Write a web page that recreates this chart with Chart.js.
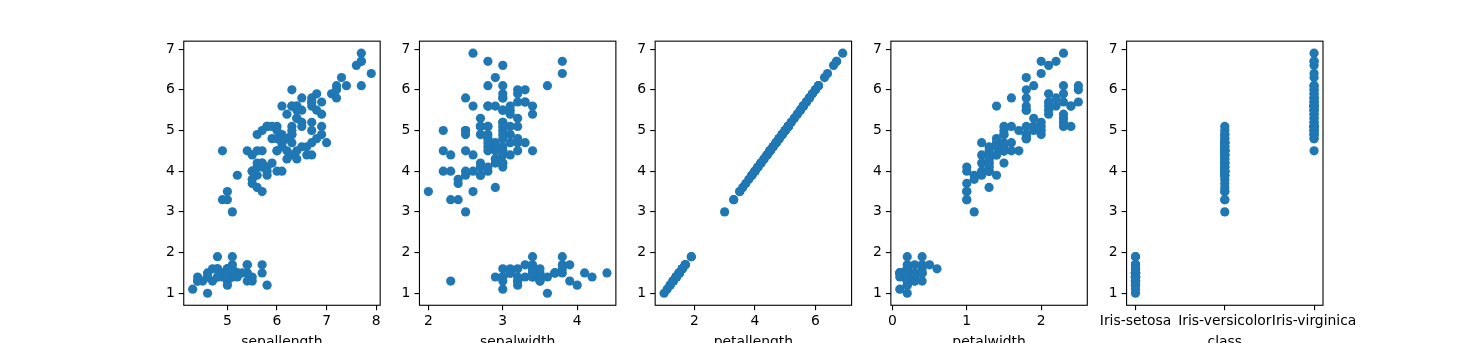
<!DOCTYPE html>
<html>
<head>
<meta charset="utf-8">
<script src="https://cdn.jsdelivr.net/npm/chart.js@4/dist/chart.umd.min.js"></script>
<style>
  html, body { margin: 0; padding: 0; background: #fff; overflow: hidden; width: 1470px; height: 343px; }
  canvas { position: absolute; left: 0; top: 0; }
</style>
</head>
<body>
<canvas id="c0" width="1470" height="360"></canvas>
<canvas id="c1" width="1470" height="360"></canvas>
<canvas id="c2" width="1470" height="360"></canvas>
<canvas id="c3" width="1470" height="360"></canvas>
<canvas id="c4" width="1470" height="360"></canvas>
<script>
// iris measurements, read row by row
const sepallength = [
  5.1,4.9,4.7,4.6,5.0,5.4,4.6,5.0,4.4,4.9,5.4,4.8,4.8,4.3,5.8,5.7,5.4,5.1,5.7,5.1,5.4,5.1,4.6,5.1,4.8,
  5.0,5.0,5.2,5.2,4.7,4.8,5.4,5.2,5.5,4.9,5.0,5.5,4.9,4.4,5.1,5.0,4.5,4.4,5.0,5.1,4.8,5.1,4.6,5.3,5.0,
  7.0,6.4,6.9,5.5,6.5,5.7,6.3,4.9,6.6,5.2,5.0,5.9,6.0,6.1,5.6,6.7,5.6,5.8,6.2,5.6,5.9,6.1,6.3,6.1,6.4,
  6.6,6.8,6.7,6.0,5.7,5.5,5.5,5.8,6.0,5.4,6.0,6.7,6.3,5.6,5.5,5.5,6.1,5.8,5.0,5.6,5.7,5.7,6.2,5.1,5.7,
  6.3,5.8,7.1,6.3,6.5,7.6,4.9,7.3,6.7,7.2,6.5,6.4,6.8,5.7,5.8,6.4,6.5,7.7,7.7,6.0,6.9,5.6,7.7,6.3,6.7,
  7.2,6.2,6.1,6.4,7.2,7.4,7.9,6.4,6.3,6.1,7.7,6.3,6.4,6.0,6.9,6.7,6.9,5.8,6.8,6.7,6.7,6.3,6.5,6.2,5.9
];
const sepalwidth = [
  3.5,3.0,3.2,3.1,3.6,3.9,3.4,3.4,2.9,3.1,3.7,3.4,3.0,3.0,4.0,4.4,3.9,3.5,3.8,3.8,3.4,3.7,3.6,3.3,3.4,
  3.0,3.4,3.5,3.4,3.2,3.1,3.4,4.1,4.2,3.1,3.2,3.5,3.1,3.0,3.4,3.5,2.3,3.2,3.5,3.8,3.0,3.8,3.2,3.7,3.3,
  3.2,3.2,3.1,2.3,2.8,2.8,3.3,2.4,2.9,2.7,2.0,3.0,2.2,2.9,2.9,3.1,3.0,2.7,2.2,2.5,3.2,2.8,2.5,2.8,2.9,
  3.0,2.8,3.0,2.9,2.6,2.4,2.4,2.7,2.7,3.0,3.4,3.1,2.3,3.0,2.5,2.6,3.0,2.6,2.3,2.7,3.0,2.9,2.9,2.5,2.8,
  3.3,2.7,3.0,2.9,3.0,3.0,2.5,2.9,2.5,3.6,3.2,2.7,3.0,2.5,2.8,3.2,3.0,3.8,2.6,2.2,3.2,2.8,2.8,2.7,3.3,
  3.2,2.8,3.0,2.8,3.0,2.8,3.8,2.8,2.8,2.6,3.0,3.4,3.1,3.0,3.1,3.1,3.1,2.7,3.2,3.3,3.0,2.5,3.0,3.4,3.0
];
const petallength = [
  1.4,1.4,1.3,1.5,1.4,1.7,1.4,1.5,1.4,1.5,1.5,1.6,1.4,1.1,1.2,1.5,1.3,1.4,1.7,1.5,1.7,1.5,1.0,1.7,1.9,
  1.6,1.6,1.5,1.4,1.6,1.6,1.5,1.5,1.4,1.5,1.2,1.3,1.5,1.3,1.5,1.3,1.3,1.3,1.6,1.9,1.4,1.6,1.4,1.5,1.4,
  4.7,4.5,4.9,4.0,4.6,4.5,4.7,3.3,4.6,3.9,3.5,4.2,4.0,4.7,3.6,4.4,4.5,4.1,4.5,3.9,4.8,4.0,4.9,4.7,4.3,
  4.4,4.8,5.0,4.5,3.5,3.8,3.7,3.9,5.1,4.5,4.5,4.7,4.4,4.1,4.0,4.4,4.6,4.0,3.3,4.2,4.2,4.2,4.3,3.0,4.1,
  6.0,5.1,5.9,5.6,5.8,6.6,4.5,6.3,5.8,6.1,5.1,5.3,5.5,5.0,5.1,5.3,5.5,6.7,6.9,5.0,5.7,4.9,6.7,4.9,5.7,
  6.0,4.8,4.9,5.6,5.8,6.1,6.4,5.6,5.1,5.6,6.1,5.6,5.5,4.8,5.4,5.6,5.1,5.1,5.9,5.7,5.2,5.0,5.2,5.4,5.1
];
const petalwidth = [
  0.2,0.2,0.2,0.2,0.2,0.4,0.3,0.2,0.2,0.1,0.2,0.2,0.1,0.1,0.2,0.4,0.4,0.3,0.3,0.3,0.2,0.4,0.2,0.5,0.2,
  0.2,0.4,0.2,0.2,0.2,0.2,0.4,0.1,0.2,0.1,0.2,0.2,0.1,0.2,0.2,0.3,0.3,0.2,0.6,0.4,0.3,0.2,0.2,0.2,0.2,
  1.4,1.5,1.5,1.3,1.5,1.3,1.6,1.0,1.3,1.4,1.0,1.5,1.0,1.4,1.3,1.4,1.5,1.0,1.5,1.1,1.8,1.3,1.5,1.2,1.3,
  1.4,1.4,1.7,1.5,1.0,1.1,1.0,1.2,1.6,1.5,1.6,1.5,1.3,1.3,1.3,1.2,1.4,1.2,1.0,1.3,1.2,1.3,1.3,1.1,1.3,
  2.5,1.9,2.1,1.8,2.2,2.1,1.7,1.8,1.8,2.5,2.0,1.9,2.1,2.0,2.4,2.3,1.8,2.2,2.3,1.5,2.3,2.0,2.0,1.8,2.1,
  1.8,1.8,1.8,2.1,1.6,1.9,2.0,2.2,1.5,1.4,2.3,2.4,1.8,1.8,2.1,2.4,2.3,1.9,2.3,2.5,2.3,1.9,2.0,2.3,1.8
];
// class index into classNames
const classes = [
  0,0,0,0,0,0,0,0,0,0,0,0,0,0,0,0,0,0,0,0,0,0,0,0,0,
  0,0,0,0,0,0,0,0,0,0,0,0,0,0,0,0,0,0,0,0,0,0,0,0,0,
  1,1,1,1,1,1,1,1,1,1,1,1,1,1,1,1,1,1,1,1,1,1,1,1,1,
  1,1,1,1,1,1,1,1,1,1,1,1,1,1,1,1,1,1,1,1,1,1,1,1,1,
  2,2,2,2,2,2,2,2,2,2,2,2,2,2,2,2,2,2,2,2,2,2,2,2,2,
  2,2,2,2,2,2,2,2,2,2,2,2,2,2,2,2,2,2,2,2,2,2,2,2,2
];
const classNames = ['Iris-setosa', 'Iris-versicolor', 'Iris-virginica'];

const panelLabels = ['sepallength', 'sepalwidth', 'petallength', 'petalwidth', 'class'];
const panelX = [sepallength, sepalwidth, petallength, petalwidth, classes];
const xTickValues = [[5, 6, 7, 8], [2, 3, 4], [2, 4, 6], [0, 1, 2], [0, 1, 2]];
const yTickValues = [1, 2, 3, 4, 5, 6, 7];

const W = 1470, H = 360;
const figLeft = 0.125 * 1470, figRight = 0.9 * 1470;
const plotTop = 343 * 0.12, plotBottom = 343 * 0.89;
const panelW = (figRight - figLeft) / 5.8;
const gapW = panelW * 0.2;
const yAxisW = 50;
const blue = '#1f77b4';
const font = { family: 'DejaVu Sans', size: 13.9 };

function padRange(arr) {
  let lo = Math.min(...arr), hi = Math.max(...arr);
  const m = (hi - lo) * 0.05;
  return [lo - m, hi + m];
}

const frame = {
  id: 'frame',
  afterDatasetsDraw(chart) {
    const a = chart.chartArea, ctx = chart.ctx;
    ctx.save();
    ctx.strokeStyle = '#000';
    ctx.lineWidth = 1.1;
    ctx.strokeRect(a.left, a.top, a.right - a.left, a.bottom - a.top);
    ctx.restore();
  }
};

const yRange = padRange(petallength);

for (let p = 0; p < 5; p++) {
  const left = figLeft + p * (panelW + gapW);
  const right = left + panelW;
  const xr = padRange(panelX[p]);
  const points = panelX[p].map((x, i) => ({ x: x, y: petallength[i] }));
  const isClass = p === 4;

  new Chart(document.getElementById('c' + p), {
    type: 'scatter',
    data: {
      datasets: [{
        data: points,
        backgroundColor: blue,
        borderColor: blue,
        borderWidth: 0,
        pointRadius: 4.6,
        pointHoverRadius: 4.6
      }]
    },
    plugins: [frame],
    options: {
      responsive: false,
      animation: false,
      events: [],
      layout: { padding: { left: left - yAxisW, right: W - right, top: plotTop, bottom: 0 } },
      plugins: { legend: { display: false }, tooltip: { enabled: false } },
      scales: {
        x: {
          type: 'linear',
          min: xr[0],
          max: xr[1],
          afterBuildTicks: s => { s.ticks = xTickValues[p].map(v => ({ value: v })); },
          afterFit: s => { s.height = H - plotBottom; s.paddingLeft = 0; s.paddingRight = 0; },
          grid: { drawOnChartArea: false, drawTicks: true, tickLength: 5, color: '#000', lineWidth: 1.1 },
          border: { display: false },
          ticks: {
            font: font, color: '#000', padding: 3, maxRotation: 0, autoSkip: false,
            callback: v => isClass ? classNames[v] : v
          },
          title: { display: true, text: panelLabels[p], font: font, color: '#000', padding: { top: 4, bottom: 9 } }
        },
        y: {
          min: yRange[0],
          max: yRange[1],
          afterBuildTicks: s => { s.ticks = yTickValues.map(v => ({ value: v })); },
          afterFit: s => { s.width = yAxisW; s.paddingTop = 0; s.paddingBottom = 0; },
          grid: { drawOnChartArea: false, drawTicks: true, tickLength: 5, color: '#000', lineWidth: 1.1 },
          border: { display: false },
          ticks: { font: font, color: '#000', padding: 4 }
        }
      }
    }
  });
}
</script>
</body>
</html>
